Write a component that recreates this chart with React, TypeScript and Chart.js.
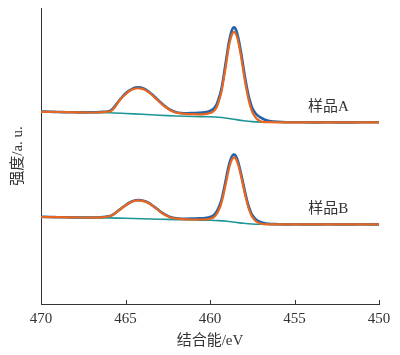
import React, { useEffect, useRef } from "react";
import { Chart, registerables } from "chart.js";

Chart.register(...registerables);

// Binding energy (eV) grids
const rawEnergy = [470, 469.5, 469, 468.5, 468, 467.5, 467, 466.5, 466, 465.8, 465.6, 465.4, 465.2, 465, 464.8, 464.6, 464.4, 464.2, 464, 463.8, 463.6, 463.4, 463.2, 463, 462.8, 462.6, 462.4, 462.2, 462, 461.7, 461.4, 461, 460.7, 460.4, 460.2, 460, 459.8, 459.6, 459.4, 459.3, 459.2, 459.1, 459, 458.9, 458.8, 458.7, 458.6, 458.5, 458.4, 458.3, 458.2, 458.1, 458, 457.9, 457.8, 457.7, 457.6, 457.5, 457.3, 457.1, 456.9, 456.7, 456.4, 456, 455.5, 455, 454, 453, 452, 451, 450];
const fitEnergy = [470, 469, 468, 467, 466.5, 466, 465.8, 465.6, 465.4, 465.2, 465, 464.8, 464.6, 464.4, 464.2, 464, 463.8, 463.6, 463.4, 463.2, 463, 462.8, 462.6, 462.4, 462.2, 462, 461.5, 461, 460.5, 460.2, 460, 459.8, 459.6, 459.4, 459.3, 459.2, 459.1, 459, 458.9, 458.8, 458.7, 458.6, 458.5, 458.4, 458.3, 458.2, 458.1, 458, 457.9, 457.8, 457.7, 457.6, 457.5, 457.3, 457.1, 456.9, 456.5, 456, 455, 450];
const bgEnergy = [470, 468, 466, 465, 464, 463, 462, 461, 460, 459.5, 459, 458.5, 458, 457.5, 457, 456.5, 450];

// Sample A (offset intensity, a.u.)
const rawA = [192.5, 192.2, 192.0, 191.8, 191.7, 191.6, 191.7, 192.0, 192.8, 194.5, 198.5, 203, 207, 210.5, 213.2, 215.2, 216.4, 216.7, 216, 214.4, 212, 209.2, 206, 202.8, 199.8, 197, 194.7, 193, 191.8, 191, 190.7, 190.9, 191.1, 191.4, 192, 193, 195, 200, 210, 217, 227, 238, 249, 260, 268, 274, 276.5, 275.5, 271, 264, 255, 245, 234, 224, 215, 207, 201, 196, 190.5, 187.5, 185.5, 184, 182.8, 182.2, 181.8, 181.8, 181.6, 181.7, 181.6, 181.7, 181.7];
const fitA = [192.2, 192, 191.7, 191.5, 191.7, 192.4, 193.7, 197.5, 202.5, 206.5, 209.8, 212.5, 214.4, 215.5, 215.7, 215.1, 213.6, 211.3, 208.5, 205.4, 202.2, 199.2, 196.5, 194.2, 192.5, 191.4, 190.2, 189.8, 189.7, 190.2, 191, 192.5, 197, 207, 214, 224, 234, 245, 256, 264, 269.5, 272, 271, 267, 260, 251, 241, 230, 220, 211, 203, 197, 192, 186.5, 183.5, 182.2, 181.8, 181.7, 181.7, 181.7];
const bgA = [192, 191.7, 191.2, 190.5, 189.7, 188.8, 188, 187.5, 187.2, 186.8, 185.8, 184.5, 183.3, 182.4, 181.9, 181.7, 181.7];

// Sample B
const rawB = [87.2, 87, 86.8, 86.7, 86.6, 86.5, 86.5, 86.8, 87.6, 88.8, 91, 93.7, 96.3, 98.8, 101, 102.7, 103.7, 103.9, 103.5, 102.5, 100.8, 98.5, 96, 93.3, 90.8, 88.8, 87.3, 86.3, 85.7, 85.3, 85.2, 85.4, 85.6, 85.8, 86.2, 87, 88.5, 92.5, 100, 105.5, 113, 121, 129.5, 137.5, 143.5, 147.7, 149.5, 148.7, 145.3, 140, 133, 125.5, 117.5, 110, 103, 97, 92.5, 89, 84.7, 82.5, 81.2, 80.5, 80, 79.8, 79.6, 79.7, 79.6, 79.7, 79.6, 79.7, 79.6];
const fitB = [87, 86.8, 86.6, 86.4, 86.7, 87.5, 88.7, 91, 93.5, 96, 98.5, 100.7, 102.4, 103.4, 103.6, 103.2, 102.2, 100.5, 98.2, 95.7, 93, 90.5, 88.5, 87, 86, 85.3, 84.7, 84.5, 84.5, 84.7, 85.2, 86.5, 90, 97, 102.5, 109.5, 117.5, 125.5, 133.5, 140, 144.5, 146.5, 145.7, 142.5, 137.5, 130.5, 123, 115, 107.5, 101, 95, 90.5, 87, 83, 81, 80, 79.7, 79.7, 79.7, 79.7];
const bgB = [87, 86.6, 86.1, 85.7, 85.2, 84.8, 84.4, 84, 83.7, 83.4, 82.7, 81.7, 80.7, 80, 79.7, 79.6, 79.6];

const xTicks = [470, 465, 460, 455, 450];
const sampleLabels = ["样品A", "样品B"];
const labelAnchors = [
  { x: 453.0, y: 197 },
  { x: 453.0, y: 95 },
];

const FONT = "'Liberation Serif', 'Noto Sans CJK SC', serif";
const TEXT = "#333333";
const BLUE = "#2563a6";
const ORANGE = "#e8661f";
const TEAL = "#1e9596";

const pts = (xs: number[], ys: number[]) => xs.map((x, i) => ({ x, y: ys[i] }));

const overlayPlugin = {
  id: "overlay",
  afterDraw(chart: any) {
    const ctx = chart.ctx;
    const xs = chart.scales.x;
    const ys = chart.scales.y;
    const bottom = chart.chartArea.bottom;
    ctx.save();
    ctx.strokeStyle = "#333333";
    ctx.lineWidth = 1;
    xTicks.forEach((t) => {
      const px = Math.round(xs.getPixelForValue(t)) + 0.5;
      ctx.beginPath();
      ctx.moveTo(px, bottom);
      ctx.lineTo(px, bottom - 4);
      ctx.stroke();
    });
    ctx.fillStyle = TEXT;
    ctx.font = `15px ${FONT}`;
    ctx.textAlign = "center";
    ctx.textBaseline = "middle";
    sampleLabels.forEach((s, i) => {
      ctx.fillText(s, xs.getPixelForValue(labelAnchors[i].x), ys.getPixelForValue(labelAnchors[i].y));
    });
    ctx.restore();
  },
};

export default function App() {
  const ref = useRef<HTMLCanvasElement>(null);
  useEffect(() => {
    if (!ref.current) return;
    const line = (data: any, color: string, w: number) => ({
      data,
      borderColor: color,
      backgroundColor: color,
      borderWidth: w,
      pointRadius: 0,
      tension: 0.3,
      fill: false,
    });
    const chart = new Chart(ref.current, {
      type: "line",
      data: {
        datasets: [
          line(pts(fitEnergy, fitA), ORANGE, 2.2),
          line(pts(fitEnergy, fitB), ORANGE, 2.2),
          line(pts(bgEnergy, bgA), TEAL, 1.6),
          line(pts(bgEnergy, bgB), TEAL, 1.6),
          line(pts(rawEnergy, rawA), BLUE, 2.6),
          line(pts(rawEnergy, rawB), BLUE, 2.6),
        ],
      },
      options: {
        animation: false,
        responsive: true,
        maintainAspectRatio: false,
        layout: { padding: { top: 8, right: 21, left: 0, bottom: 0 } },
        plugins: { legend: { display: false }, tooltip: { enabled: false } },
        scales: {
          x: {
            type: "linear",
            reverse: true,
            min: 450,
            max: 470,
            afterBuildTicks: (s: any) => {
              s.ticks = xTicks.map((v) => ({ value: v }));
            },
            afterFit: (s: any) => {
              s.height = 51;
            },
            grid: { display: false, drawTicks: false },
            border: { display: true, color: "#333333", width: 1 },
            ticks: { color: TEXT, font: { family: FONT, size: 15 }, padding: 6, maxRotation: 0 },
            title: {
              display: true,
              text: "结合能/eV",
              color: TEXT,
              font: { family: FONT, size: 15 },
              padding: { top: 0, bottom: 5 },
            },
          },
          y: {
            min: 0,
            max: 296,
            afterFit: (s: any) => {
              s.width = 41;
            },
            grid: { display: false, drawTicks: false },
            border: { display: true, color: "#333333", width: 1 },
            ticks: { display: false },
            title: {
              display: true,
              text: "强度/a. u.",
              color: TEXT,
              font: { family: FONT, size: 15 },
              padding: { top: 9, bottom: 0 },
            },
          },
        },
      },
      plugins: [overlayPlugin],
    } as any);
    return () => chart.destroy();
  }, []);
  return (
    <div style={{ position: "absolute", left: 0, top: 0, width: 400, height: 355, background: "#fff" }}>
      <canvas ref={ref} />
    </div>
  );
}
